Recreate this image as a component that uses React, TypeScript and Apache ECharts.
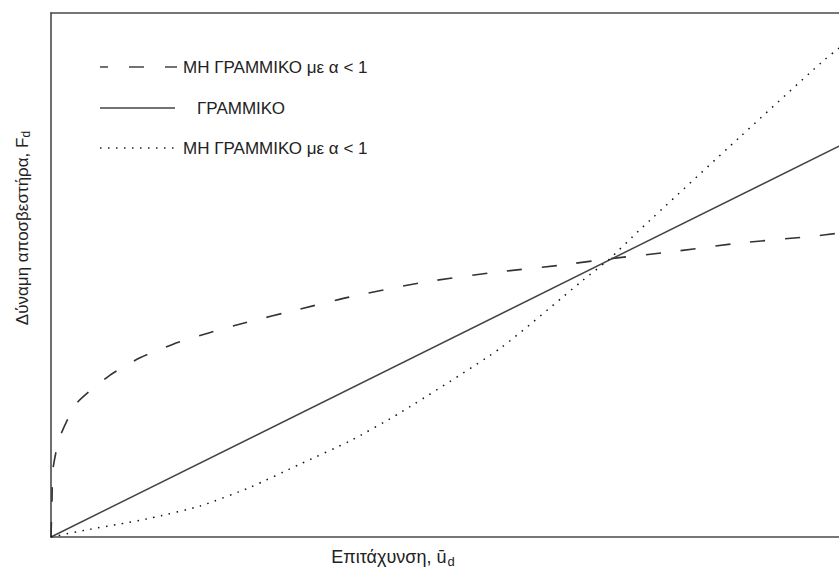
import React, { useEffect, useRef } from "react";
import * as echarts from "echarts";

// Non-linear damper, alpha < 1 (concave, dashed)
const concaveX = [0, 0.0013, 0.0025, 0.011, 0.033, 0.075, 0.113, 0.155, 0.199, 0.244, 0.316, 0.379, 0.468, 0.557, 0.648, 0.709, 0.786, 0.874, 0.967, 1.0];
const concaveY = [0, 0.07, 0.13, 0.19, 0.256, 0.309, 0.342, 0.368, 0.389, 0.408, 0.435, 0.458, 0.485, 0.504, 0.519, 0.531, 0.544, 0.561, 0.574, 0.58];

// Linear damper (solid)
const linearX = [0, 1.0];
const linearY = [0, 0.746];

// Non-linear damper (convex, dotted)
const convexX = [0, 0.05, 0.088, 0.126, 0.189, 0.253, 0.316, 0.379, 0.443, 0.57, 0.675, 0.709, 0.747, 0.874, 0.978, 1.0];
const convexY = [0, 0.015, 0.025, 0.036, 0.059, 0.095, 0.139, 0.183, 0.237, 0.36, 0.49, 0.531, 0.586, 0.763, 0.906, 0.933];

const legendLabels = ["ΜΗ ΓΡΑΜΜΙΚΟ με α < 1", "ΓΡΑΜΜΙΚΟ", "ΜΗ ΓΡΑΜΜΙΚΟ με α < 1"];
const xAxisTitle = "Επιτάχυνση, ";
const yAxisTitle = "Δύναμη αποσβεστήρα, F";

const zip = (xs: number[], ys: number[]) => xs.map((x, i) => [x, ys[i]]);

const FONT = "'Liberation Sans', Arial, sans-serif";

export default function App() {
  const ref = useRef<HTMLDivElement>(null);
  useEffect(() => {
    if (!ref.current) return;
    const chart = echarts.init(ref.current, undefined, { renderer: "svg" });
    const axisLine = { show: true, lineStyle: { color: "#4a4a4a", width: 1.6 } };
    const hidden = { axisTick: { show: false }, axisLabel: { show: false }, splitLine: { show: false } };
    chart.setOption({
      animation: false,
      backgroundColor: "#fff",
      grid: { left: 51, right: 0, top: 13, bottom: 33, containLabel: false },
      xAxis: [
        { type: "value", min: 0, max: 1, position: "bottom", axisLine, ...hidden },
        { type: "value", min: 0, max: 1, position: "top", axisLine, ...hidden },
      ],
      yAxis: { type: "value", min: 0, max: 1, axisLine, ...hidden },
      series: [
        {
          type: "line",
          name: "concave",
          data: zip(concaveX, concaveY),
          showSymbol: false,
          smooth: 0.2,
          lineStyle: { color: "#333", width: 1.6, type: [15, 20] },
        },
        {
          type: "line",
          name: "linear",
          data: zip(linearX, linearY),
          showSymbol: false,
          lineStyle: { color: "#444", width: 1.5, type: "solid" },
        },
        {
          type: "line",
          name: "convex",
          data: zip(convexX, convexY),
          showSymbol: false,
          smooth: 0.2,
          lineStyle: { color: "#111", width: 1.5, type: [1.5, 6.5] },
        },
      ],
      graphic: [
        { type: "line", shape: { x1: 100, y1: 67, x2: 177, y2: 67 }, style: { stroke: "#444", lineWidth: 1.6, lineDash: [15, 21], lineDashOffset: 7 } },
        { type: "line", shape: { x1: 100, y1: 108, x2: 175, y2: 108 }, style: { stroke: "#444", lineWidth: 1.5 } },
        { type: "line", shape: { x1: 100, y1: 148, x2: 177, y2: 148 }, style: { stroke: "#222", lineWidth: 1.5, lineDash: [1.5, 6.5] } },
        { type: "text", x: 183, y: 67, style: { text: legendLabels[0], fontSize: 17, fontFamily: FONT, fill: "#222", verticalAlign: "middle" } },
        { type: "text", x: 197, y: 108, style: { text: legendLabels[1], fontSize: 17, fontFamily: FONT, fill: "#222", verticalAlign: "middle" } },
        { type: "text", x: 183, y: 148, style: { text: legendLabels[2], fontSize: 17, fontFamily: FONT, fill: "#222", verticalAlign: "middle" } },
        {
          type: "text",
          x: 393,
          y: 557,
          style: {
            text: "{a|" + xAxisTitle + "}{a|ū}{s|d}",
            align: "center",
            verticalAlign: "middle",
            rich: {
              a: { fontSize: 18, fontFamily: FONT, fill: "#222" },
              s: { fontSize: 13, fontFamily: FONT, fill: "#222", padding: [8, 0, 0, 1] },
            },
          },
        },
        {
          type: "text",
          x: 22,
          y: 228,
          rotation: Math.PI / 2,
          style: {
            text: "{a|" + yAxisTitle + "}{s|d}",
            align: "center",
            verticalAlign: "middle",
            rich: {
              a: { fontSize: 17, fontFamily: FONT, fill: "#222" },
              s: { fontSize: 12, fontFamily: FONT, fill: "#222", padding: [8, 0, 0, 0] },
            },
          },
        },
      ],
    });
    return () => chart.dispose();
  }, []);
  return (
    <div
      ref={ref}
      style={{ position: "fixed", left: 0, top: 0, width: 839, height: 570, background: "#fff" }}
    />
  );
}
